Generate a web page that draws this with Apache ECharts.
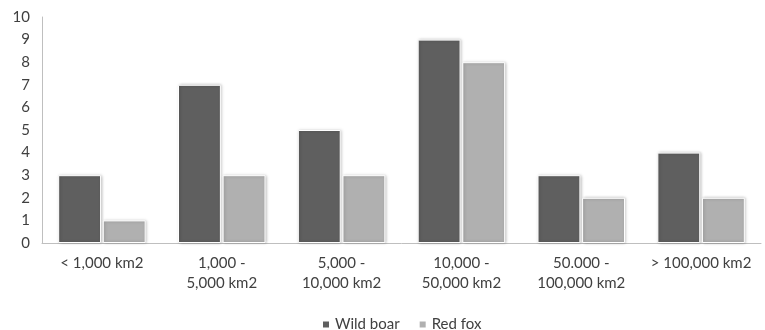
<!DOCTYPE html>
<html>
<head>
<meta charset="utf-8">
<script src="https://cdn.jsdelivr.net/npm/echarts@6/dist/echarts.min.js"></script>
<style>
  html, body { margin: 0; padding: 0; background: #fff; }
  #chart { width: 765px; height: 330px; }
</style>
</head>
<body>
<div id="chart"></div>
<script>
const categories = ['< 1,000 km2', '1,000 -\n5,000 km2', '5,000 -\n10,000 km2', '10,000 -\n50,000 km2', '50.000 -\n100,000 km2', '> 100,000 km2']
const wildBoar = [3, 7, 5, 9, 3, 4]
const redFox = [1, 3, 3, 8, 2, 2]
const yTicks = { min: 0, max: 10, interval: 1 }

const chart = echarts.init(document.getElementById('chart'))
const font = 'Lato, "Open Sans", sans-serif'
const barStyle = (color) => ({
  color: color,
  borderColor: '#ffffff',
  borderWidth: 1,
  shadowColor: 'rgba(0,0,0,0.25)',
  shadowBlur: 3,
  shadowOffsetX: 1,
  shadowOffsetY: 0
})

chart.setOption({
  animation: false,
  textStyle: { fontFamily: font },
  grid: { left: 42, right: 4, top: 17, bottom: 87 },
  legend: {
    top: 312,
    left: 316,
    itemWidth: 8,
    itemHeight: 8,
    itemGap: 18,
    icon: 'rect',
    textStyle: { fontFamily: font, fontSize: 15, color: '#404040' },
    data: ['Wild boar', 'Red fox']
  },
  xAxis: {
    type: 'category',
    data: categories,
    axisTick: { show: false },
    axisLine: { lineStyle: { color: '#bfbfbf' } },
    axisLabel: {
      interval: 0,
      margin: 10,
      fontFamily: font,
      fontSize: 15,
      color: '#404040',
      lineHeight: 20
    }
  },
  yAxis: {
    type: 'value',
    min: yTicks.min,
    max: yTicks.max,
    interval: yTicks.interval,
    splitLine: { show: false },
    axisLine: { show: true, lineStyle: { color: '#bfbfbf' } },
    axisTick: { show: false },
    axisLabel: { fontFamily: font, fontSize: 15, color: '#404040', margin: 12 }
  },
  series: [
    {
      name: 'Wild boar',
      type: 'bar',
      data: wildBoar,
      barGap: '4%',
      barCategoryGap: '27%',
      itemStyle: barStyle('#5f5f5f')
    },
    {
      name: 'Red fox',
      type: 'bar',
      data: redFox,
      itemStyle: barStyle('#b0b0b0')
    }
  ]
})
</script>
</body>
</html>
